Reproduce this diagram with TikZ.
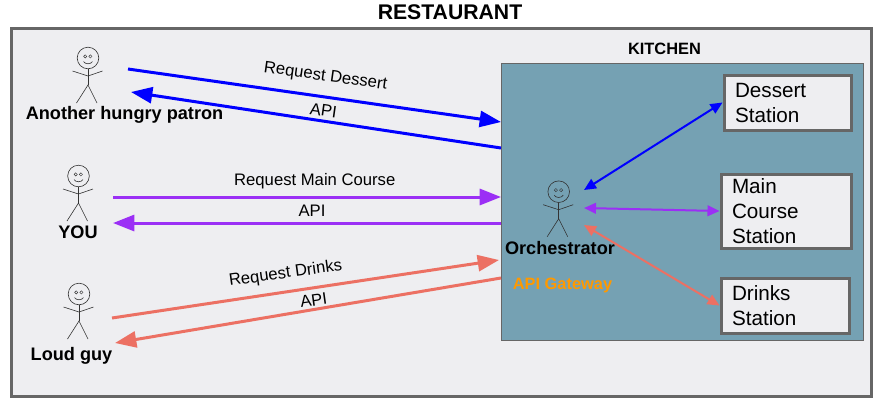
\documentclass[tikz,border=0pt]{standalone}
\usepackage{xcolor}
\usepackage{fontspec}
\setmainfont{Liberation Sans}
\usepackage{tikz}
\usetikzlibrary{arrows.meta}
\usetikzlibrary{positioning}
\definecolor{framegray}{HTML}{666666}
\definecolor{roomgray}{HTML}{EEEEF1}
\definecolor{kitchenblue}{HTML}{75A1B3}
\definecolor{reqblue}{HTML}{0000FF}
\definecolor{reqpurple}{HTML}{9B2FF5}
\definecolor{reqred}{HTML}{EC7063}
\definecolor{gatewayorange}{HTML}{FF9900}
\definecolor{stickgray}{HTML}{333333}
\tikzset{>=latex}
\tikzset{
  bigline/.style = {line width=2.25pt, -{Triangle[length=16pt, width=12pt]}},
  smallline/.style = {line width=1.5pt, {Triangle[length=9pt, width=8pt]}-{Triangle[length=9pt, width=8pt]}},
  plainlabel/.style = {font=\fontsize{12.5}{15}\selectfont, inner sep=0pt, text=black},
  whotext/.style = {font=\fontsize{13.6}{16}\selectfont\bfseries, inner sep=0pt},
  stationbox/.style = {rectangle, draw=framegray, fill=roomgray, line width=2.25pt, align=left, inner ysep=0pt, inner xsep=8.25pt, font=\fontsize{15.5}{18.75}\selectfont},
  stickman/.pic = {
    \draw [stickgray, line width=0.45pt] (0, 0) circle [radius=10.8];
    \draw [stickgray, line width=0.35pt] (-2.8, -1.6) circle [radius=1.6];
    \draw [stickgray, line width=0.35pt] (2.4, -1.6) circle [radius=1.6];
    \draw [stickgray, line width=0.45pt] (-4.5, 3.5) .. controls (-3, 6.5) and (3, 6.5) .. (4.5, 3.5);
    \draw [stickgray, line width=0.45pt] (0, 10.8) -- (0, 27);
    \draw [stickgray, line width=0.45pt] (-15.5, 13) -- (0, 18) -- (14.5, 13);
    \draw [stickgray, line width=0.45pt] (-11.5, 45) -- (0, 27) -- (9, 45);
  }
}

\begin{document}
\begin{tikzpicture}[x=0.75pt, y=-0.75pt]
\useasboundingbox (0, 0) rectangle (884, 404);
\node [rectangle, draw=framegray, fill=roomgray, line width=2.25pt, minimum width=645pt, minimum height=276pt, inner sep=0pt] (restaurant) at (441.5, 212) {};
\node [rectangle, draw=framegray, fill=kitchenblue, line width=0.6pt, minimum width=271.5pt, minimum height=207.75pt, inner sep=0pt] (kitchen) at (682, 201.5) {};
\node [font=\fontsize{15.9}{18}\selectfont\bfseries, inner sep=0pt] (title) at (450, 12) {RESTAURANT};
\node [font=\fontsize{12.3}{15}\selectfont\bfseries, inner sep=0pt] (kitchentitle) at (664.5, 48.5) {KITCHEN};

% people
\pic (patron) at (88, 58) {stickman};
\pic (you) at (78.5, 176) {stickman};
\pic (loud) at (79, 294) {stickman};
\pic (orch) at (558.7, 191.7) {stickman};
\node [whotext] (patronname) at (124.5, 115) {Another hungry patron};
\node [whotext] (youname) at (78, 232.5) {YOU};
\node [whotext] (loudname) at (71.5, 355.5) {Loud guy};
\node [whotext] (orchname) at (560, 248) {Orchestrator};
\node [font=\fontsize{12.3}{15}\selectfont\bfseries, text=gatewayorange, inner sep=0pt] (gateway) at (562.5, 285.5) {API Gateway};

% stations
\node [stationbox, text width=78.75pt, minimum height=41.25pt] (dessert) at (787.5, 102.5) {Dessert\\Station};
\node [stationbox, text width=81pt, minimum height=55.5pt] (maincourse) at (786, 211) {Main\\Course\\Station};
\node [stationbox, text width=79.5pt, minimum height=41.25pt] (drinks) at (785, 305.5) {Drinks\\Station};

% free ends of the connectors
\coordinate (patronout) at (128, 69);
\coordinate (patronin) at (131, 92);
\coordinate (youout) at (113, 197);
\coordinate (youin) at (113, 223);
\coordinate (loudout) at (112, 318);
\coordinate (loudin) at (115, 343);
\coordinate (dessertin) at (501, 122);
\coordinate (dessertout) at (501, 148);
\coordinate (mainin) at (501, 197);
\coordinate (mainout) at (501, 223);
\coordinate (drinksin) at (499, 260);
\coordinate (drinksout) at (501, 278);
\coordinate (orchblue) at (584, 190);
\coordinate (orchpurple) at (584, 208);
\coordinate (orchred) at (584, 225);

\draw [bigline, draw=reqblue, fill=reqblue] (patronout) to node[plainlabel, pos=0.522, rotate=-8, yshift=15pt] (reqdessert) {Request Dessert} (dessertin);
\draw [bigline, draw=reqblue, fill=reqblue] (dessertout) to node[plainlabel, pos=0.484, rotate=-8, yshift=8pt] (apidessert) {API} (patronin);
\draw [bigline, draw=reqpurple, fill=reqpurple] (youout) to node[plainlabel, pos=0.52, yshift=11.5pt] (reqmain) {Request Main Course} (mainin);
\draw [bigline, draw=reqpurple, fill=reqpurple] (mainout) to node[plainlabel, pos=0.487, yshift=9.5pt] (apimain) {API} (youin);
\draw [bigline, draw=reqred, fill=reqred] (loudout) to node[plainlabel, pos=0.455, rotate=8, yshift=13.5pt] (reqdrinks) {Request Drinks} (drinksin);
\draw [bigline, draw=reqred, fill=reqred] (drinksout) to node[plainlabel, pos=0.482, rotate=8, yshift=7pt] (apidrinks) {API} (loudin);
\draw [smallline, draw=reqblue, fill=reqblue] (orchblue) to (dessert.west);
\draw [smallline, draw=reqpurple, fill=reqpurple] (orchpurple) to (maincourse.west);
\draw [smallline, draw=reqred, fill=reqred] (orchred) to (drinks.west);
\end{tikzpicture}
\end{document}
